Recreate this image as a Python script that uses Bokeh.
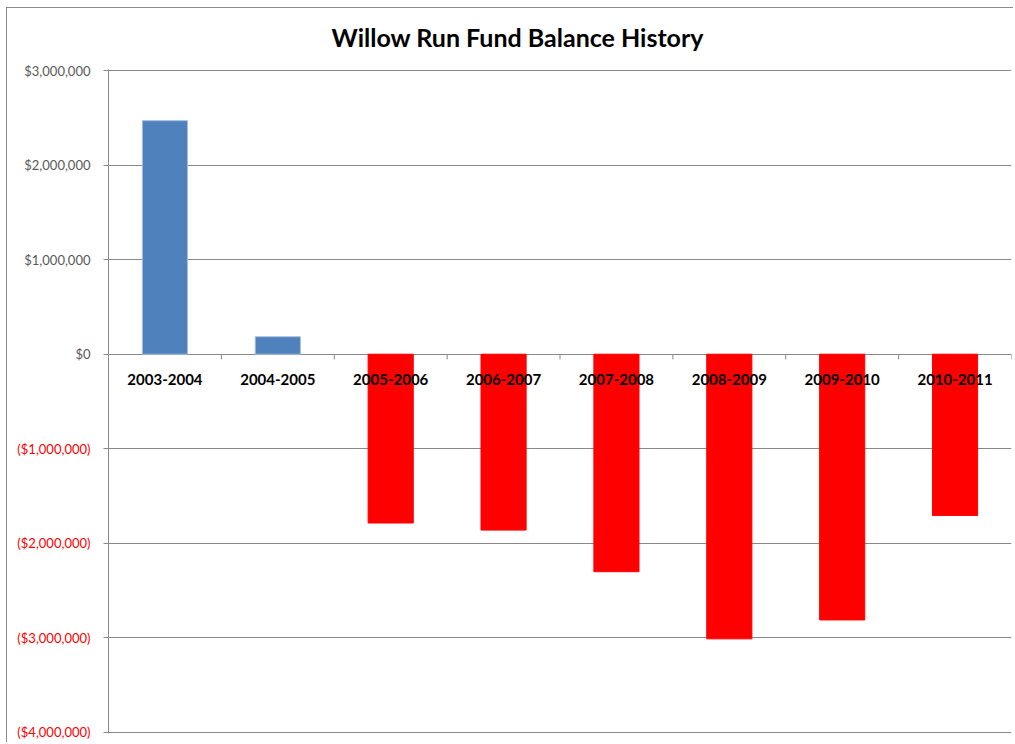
from bokeh.plotting import figure
from bokeh.models import FactorRange, Range1d, FixedTicker, LinearAxis, ColumnDataSource
from bokeh.core.properties import value
from bokeh.embed import file_html
from bokeh.resources import INLINE

# ---- data ----
years = ["2003-2004", "2004-2005", "2005-2006", "2006-2007",
         "2007-2008", "2008-2009", "2009-2010", "2010-2011"]
balances = [2470000, 185000, -1785000, -1860000,
            -2300000, -3010000, -2810000, -1705000]
y_ticks = [-4000000, -3000000, -2000000, -1000000, 0, 1000000, 2000000, 3000000]


def fmt(v):
    return f"${v:,.0f}" if v >= 0 else f"(${-v:,.0f})"


pos_color, neg_color = "#4F81BD", "#FF0000"
fills = [pos_color if v >= 0 else neg_color for v in balances]
edges = ["#A7BFDE" if v >= 0 else neg_color for v in balances]

src = ColumnDataSource(dict(years=years, bal=balances, fill=fills, edge=edges))

# y range padded by ~1px each side so the end gridlines are not clipped
pad = 11000
p = figure(x_range=FactorRange(*years, range_padding=0),
           y_range=Range1d(y_ticks[0] - pad, y_ticks[-1] + pad),
           width=1013, height=742, output_backend="svg", toolbar_location=None,
           x_axis_location=None,
           min_border_left=108, min_border_right=2, min_border_top=69, min_border_bottom=9)

p.border_fill_color = None
p.background_fill_color = "white"
p.outline_line_color = None
p.styles = {
    "background-color": "white",
    "background-image": "linear-gradient(#8a8a8a,#8a8a8a), linear-gradient(#8a8a8a,#8a8a8a)",
    "background-size": "100% 1px, 1px 100%",
    "background-position": "6px 7px, 6px 7px",
    "background-repeat": "no-repeat",
}

# title
p.title.text = "Willow Run Fund Balance History"
p.title.align = "left"
p.title.offset = 223
p.title.text_font = "Lato"
p.title.text_font_style = "bold"
p.title.text_font_size = "25px"
p.title.text_color = "black"
p.title.standoff = 35

# grid
p.xgrid.grid_line_color = None
p.ygrid.ticker = FixedTicker(ticks=y_ticks)
p.ygrid.grid_line_color = "#888888"
p.ygrid.grid_line_width = 1

# y axis (next to frame): positive labels grey
ax = p.yaxis[0]
ax.ticker = FixedTicker(ticks=y_ticks)
ax.major_label_overrides = {t: (fmt(t) if t >= 0 else "") for t in y_ticks}
ax.axis_line_color = "#888888"
ax.major_tick_line_color = "#888888"
ax.major_tick_in = 0
ax.major_tick_out = 5
ax.minor_tick_line_color = None
ax.major_label_standoff = 13
ax.major_label_text_font = "Lato"
ax.major_label_text_font_size = "13px"
ax.major_label_text_color = "#595959"

# outer axis pulled back onto the same column: negative labels red
neg_ticks = [t for t in y_ticks if t < 0]
ax2 = LinearAxis(ticker=FixedTicker(ticks=neg_ticks),
                 major_label_overrides={t: fmt(t) for t in neg_ticks},
                 axis_line_color=None, major_tick_line_color=None,
                 minor_tick_line_color=None, major_tick_in=0, major_tick_out=0,
                 major_label_standoff=-69, major_label_text_font="Lato",
                 major_label_text_font_size="13px", major_label_text_color=neg_color)
p.add_layout(ax2, "left")

# bars
p.vbar(x="years", top="bal", bottom=0, width=0.4, source=src,
       fill_color="fill", line_color="edge", line_width=1)

# zero-line category ticks at boundaries
bounds = list(range(1, len(years) + 1))
p.segment(x0=bounds, y0=[0] * len(bounds), x1=bounds, y1=[-55000] * len(bounds),
          line_color="#888888", line_width=1)

# category labels (drawn on top of bars)
p.text(x=years, y=[0] * len(years), text=years,
       text_align="center", text_baseline="middle", y_offset=25,
       text_font=value("Lato"), text_font_style="bold", text_font_size="15px",
       text_color="black")

open("out.html", "w").write(file_html(p, INLINE))
